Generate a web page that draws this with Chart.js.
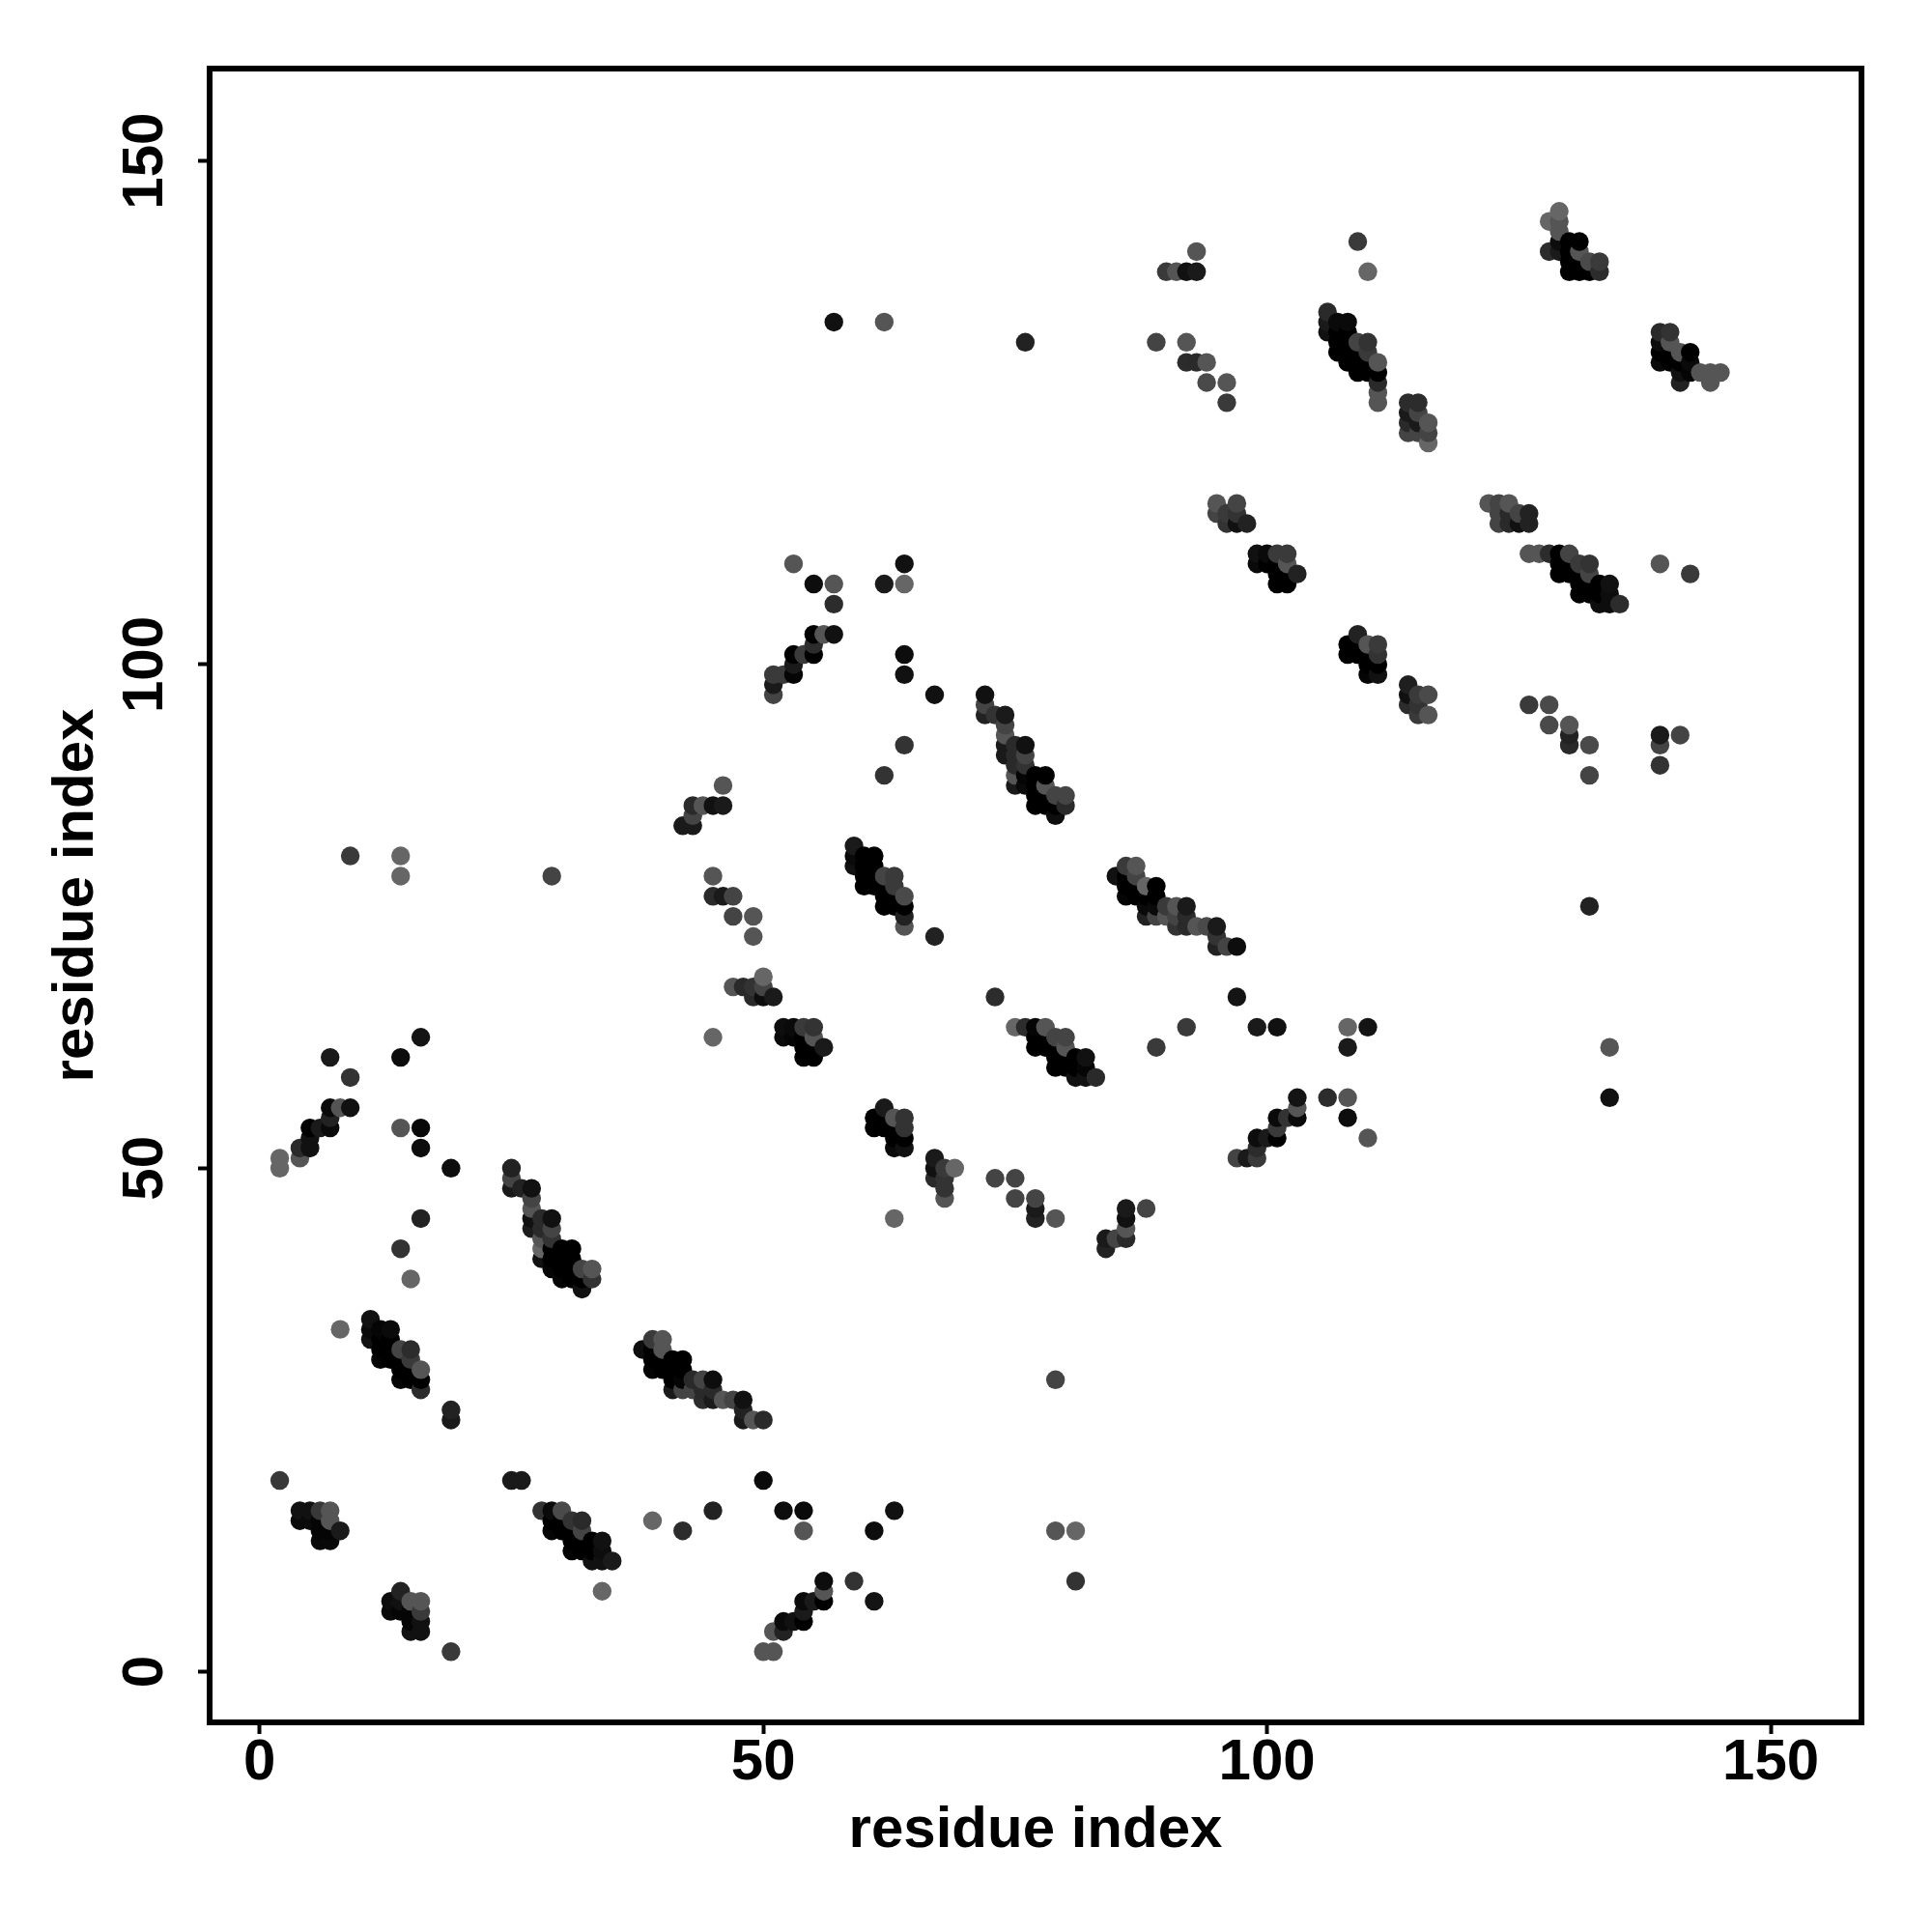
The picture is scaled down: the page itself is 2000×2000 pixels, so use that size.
<!DOCTYPE html>
<html>
<head>
<meta charset="utf-8">
<script src="https://cdn.jsdelivr.net/npm/chart.js@4"></script>
<style>
  body { margin: 0; background: #fff; }
  canvas { display: block; }
</style>
</head>
<body>
<canvas id="chart1" width="2000" height="2000"></canvas>
<script>
// each contact is [residue x, residue y, grey level of the dot]
const lowerLeft = [
  [2,19,0x38],[4,16,0x11],[4,15,0x0a],[5,16,0x11],[5,15,0x0a],[6,16,0x38],[6,15,0x05],[6,14,0x05],[6,13,0x08],
  [7,16,0x55],[7,15,0x55],[7,14,0x05],[7,13,0x08],[8,14,0x1a],
  [14,8,0x22],[13,7,0x0d],[14,7,0x11],[15,7,0x55],[16,7,0x55],[13,6,0x0a],[14,6,0x05],[15,6,0x05],[16,6,0x3a],
  [15,5,0x05],[16,5,0x11],[15,4,0x11],[16,4,0x11],[19,2,0x3a]
];
const helixA = [
  [8,34,0x66],[11,35,0x11],[11,34,0x0a],[11,33,0x11],[12,34,0x05],[12,33,0x00],[12,32,0x00],[12,31,0x05],
  [13,34,0x0a],[13,33,0x00],[13,32,0x00],[13,31,0x00],[14,32,0x44],[14,31,0x00],[14,30,0x00],[14,29,0x05],
  [15,32,0x2c],[15,31,0x3a],[15,30,0x00],[15,29,0x00],[16,30,0x55],[16,29,0x00],[16,28,0x2c],[19,26,0x22],[19,25,0x1a]
];
const helixB = [
  [15,39,0x66],[14,42,0x33],[16,45,0x22],[25,50,0x22],[25,49,0x44],[25,48,0x1a],[26,48,0x22],[27,48,0x11],
  [27,47,0x44],[27,46,0x55],[27,45,0x11],[27,44,0x1c],[28,45,0x2a],[28,44,0x2a],[28,43,0x55],[28,42,0x66],[28,41,0x11],
  [29,45,0x11],[29,44,0x44],[29,43,0x33],[29,42,0x00],[29,41,0x00],[29,40,0x05],[30,42,0x00],[30,41,0x00],[30,40,0x00],[30,39,0x05],
  [31,42,0x00],[31,41,0x00],[31,40,0x00],[31,39,0x00],[32,40,0x44],[32,39,0x00],[32,38,0x11],[33,40,0x55],[33,39,0x33]
];
const helixC = [
  [25,19,0x1a],[26,19,0x1a],[28,16,0x33],[29,16,0x0a],[29,15,0x00],[29,14,0x05],[30,16,0x4a],[30,15,0x00],[30,14,0x00],
  [31,15,0x33],[31,14,0x00],[31,13,0x00],[31,12,0x05],[32,15,0x2a],[32,14,0x44],[32,13,0x00],[32,12,0x00],
  [33,13,0x00],[33,12,0x00],[33,11,0x11],[34,13,0x11],[34,12,0x0d],[34,11,0x11],[35,11,0x1a],[34,8,0x66],[39,15,0x66]
];
const helixD = [
  [38,32,0x0d],[39,33,0x3a],[39,32,0x00],[39,31,0x00],[39,30,0x05],[40,33,0x55],[40,32,0x55],[40,31,0x00],[40,30,0x00],
  [41,31,0x00],[41,30,0x00],[41,29,0x00],[41,28,0x1a],[42,31,0x00],[42,30,0x00],[42,29,0x05],[42,28,0x44],
  [43,29,0x2a],[43,28,0x44],[44,29,0x44],[44,28,0x2a],[44,27,0x2c],[45,29,0x0d],[45,28,0x2a],[45,27,0x1a],
  [46,27,0x55],[47,27,0x44],[48,27,0x11],[48,26,0x22],[48,25,0x1a],[49,25,0x55],[50,25,0x2a]
];
const lowerMiddle = [
  [42,14,0x2c],[45,16,0x22],[50,19,0x0a],[52,16,0x0d],[54,16,0x0a],[54,14,0x55],[63,16,0x11],[61,14,0x0d],
  [79,29,0x44],[79,14,0x55],[81,14,0x66],[81,9,0x33],[59,9,0x33],[61,7,0x14],
  [50,2,0x55],[51,2,0x55],[51,4,0x55],[52,4,0x22],[52,5,0x0a],[53,5,0x11],[54,5,0x00],[54,6,0x1a],[54,7,0x0a],
  [55,7,0x1a],[56,7,0x00],[56,8,0x55],[56,9,0x0d]
];
const leftEdge = [
  [9,81,0x3a],[14,81,0x66],[14,79,0x66],[29,79,0x44],[16,63,0x14],[7,61,0x1a],[14,61,0x0c],[9,59,0x33],
  [7,56,0x0a],[8,56,0x55],[9,56,0x11],[7,55,0x22],[5,54,0x00],[6,54,0x1a],[7,54,0x0a],[14,54,0x55],[16,54,0x08],
  [5,53,0x11],[4,52,0x2a],[5,52,0x11],[16,52,0x0d],[2,51,0x66],[4,51,0x55],[2,50,0x66],[19,50,0x0d]
];
const midLeft = [
  [46,88,0x55],[43,86,0x2a],[44,86,0x55],[45,86,0x11],[46,86,0x1a],[43,85,0x44],[42,84,0x1a],[43,84,0x1a],
  [45,79,0x55],[45,77,0x2a],[46,77,0x1a],[47,77,0x44],[47,75,0x44],[49,75,0x55],[49,73,0x55],
  [50,69,0x66],[47,68,0x55],[48,68,0x2a],[49,68,0x33],[50,68,0x44],[49,67,0x2a],[50,67,0x0d],[51,67,0x1a],
  [45,63,0x66],[52,64,0x0d],[53,64,0x0a],[54,64,0x3a],[55,64,0x33],[52,63,0x0a],[53,63,0x05],[54,63,0x00],[55,63,0x55],
  [54,62,0x00],[55,62,0x00],[56,62,0x1a],[54,61,0x00],[55,61,0x00]
];
const upperMiddle = [
  [53,110,0x55],[55,108,0x0d],[57,108,0x55],[62,108,0x1a],[64,110,0x11],[64,108,0x66],[57,106,0x2c],
  [55,103,0x00],[56,103,0x55],[57,103,0x11],[55,102,0x2c],[53,101,0x00],[54,101,0x3a],[55,101,0x00],[64,101,0x0d],
  [53,100,0x1a],[51,99,0x3a],[52,99,0x3a],[53,99,0x05],[64,99,0x11],[51,98,0x1a],[51,97,0x44],[67,97,0x11],
  [64,92,0x33],[62,89,0x33],[67,73,0x22]
];
const helixE = [
  [72,97,0x11],[72,96,0x44],[72,95,0x22],[73,95,0x33],[74,95,0x1a],[74,94,0x44],[74,93,0x55],[74,92,0x1a],[74,91,0x1a],
  [75,92,0x2a],[75,91,0x2a],[75,90,0x2a],[75,89,0x55],[75,88,0x1a],[76,92,0x11],[76,91,0x44],[76,90,0x33],[76,89,0x05],[76,88,0x0a],
  [77,89,0x00],[77,88,0x00],[77,87,0x00],[77,86,0x00],[78,89,0x00],[78,88,0x55],[78,87,0x00],[78,86,0x00],
  [79,87,0x44],[79,86,0x00],[79,85,0x0d],[80,87,0x44],[80,86,0x2a]
];
const helixF = [
  [59,82,0x1a],[59,81,0x0a],[59,80,0x11],[60,81,0x00],[60,80,0x00],[60,79,0x00],[60,78,0x00],[61,81,0x00],[61,80,0x00],[61,79,0x00],[61,78,0x00],
  [62,79,0x44],[62,78,0x00],[62,77,0x00],[62,76,0x00],[63,79,0x3a],[63,78,0x3a],[63,77,0x00],[63,76,0x00],
  [64,77,0x4a],[64,76,0x00],[64,75,0x22],[64,74,0x55]
];
const helixG = [
  [61,55,0x00],[61,54,0x00],[62,56,0x1a],[62,55,0x00],[62,54,0x00],[63,55,0x55],[63,54,0x00],[63,53,0x00],[63,52,0x0a],
  [64,55,0x33],[64,54,0x33],[64,53,0x00],[64,52,0x11],[67,51,0x1a],[67,50,0x11],[67,49,0x2a],[68,50,0x3a],[68,49,0x33],[68,48,0x33],[68,47,0x55],[69,50,0x66],
  [63,45,0x66],[73,49,0x44],[75,49,0x44],[75,47,0x44],[77,47,0x44],[77,46,0x1a],[77,45,0x22],[79,45,0x55],
  [86,46,0x1a],[88,46,0x44],[86,45,0x11],[86,44,0x55],[86,43,0x2a],[85,43,0x44],[84,43,0x1a],[84,42,0x22]
];
const helixH = [
  [73,67,0x2c],[75,64,0x66],[76,64,0x2c],[77,64,0x05],[78,64,0x55],[77,63,0x00],[78,63,0x00],[79,63,0x44],[80,63,0x44],
  [77,62,0x00],[78,62,0x00],[79,62,0x00],[80,62,0x55],[79,61,0x00],[80,61,0x00],[81,61,0x00],[82,61,0x11],
  [79,60,0x00],[80,60,0x00],[81,60,0x00],[82,60,0x05],[81,59,0x11],[82,59,0x11],[83,59,0x2a]
];
const helixI = [
  [86,80,0x3a],[87,80,0x55],[85,79,0x11],[86,79,0x00],[87,79,0x44],[86,78,0x00],[87,78,0x00],[88,78,0x66],[89,78,0x00],
  [86,77,0x05],[87,77,0x00],[88,77,0x00],[89,77,0x00],[88,76,0x0a],[89,76,0x0a],[90,76,0x3a],[91,76,0x55],[92,76,0x1a],
  [88,75,0x22],[89,75,0x44],[90,75,0x55],[91,75,0x44],[92,75,0x2a],[91,74,0x33],[92,74,0x2a],[93,74,0x55],[94,74,0x4a],[95,74,0x1a],
  [95,73,0x33],[95,72,0x22],[96,72,0x44],[97,72,0x0d]
];
const rightLower = [
  [89,62,0x3a],[92,64,0x3a],[97,67,0x14],[99,64,0x1a],[101,64,0x11],[108,64,0x66],[110,64,0x14],[108,62,0x1a],
  [103,57,0x14],[103,56,0x55],[103,55,0x0a],[101,55,0x0a],[102,55,0x33],[106,57,0x2c],[108,57,0x55],[108,55,0x0d],[110,53,0x55],
  [101,54,0x3a],[101,53,0x00],[99,53,0x0d],[100,53,0x1a],[99,52,0x2c],[99,51,0x3a],[98,51,0x1a],[97,51,0x44],
  [134,62,0x55],[134,57,0x11],[132,76,0x22]
];
const upperA = [
  [57,134,0x11],[62,134,0x55],[76,132,0x22],[93,141,0x55],[90,139,0x3a],[91,139,0x55],[92,139,0x11],[93,139,0x1a],
  [89,132,0x44],[92,132,0x55],[92,130,0x2c],[93,130,0x2a],[94,130,0x55],[94,128,0x4a],[96,128,0x55],[96,126,0x3a],
  [109,142,0x3a],[110,139,0x66]
];
const helixJ = [
  [106,135,0x2a],[106,134,0x1a],[106,133,0x11],[107,134,0x0a],[107,133,0x00],[107,132,0x00],[107,131,0x00],
  [108,134,0x0a],[108,133,0x00],[108,132,0x00],[108,131,0x00],[108,130,0x00],[109,132,0x44],[109,131,0x00],[109,130,0x00],[109,129,0x00],
  [110,132,0x33],[110,131,0x3a],[110,130,0x00],[110,129,0x00],[111,130,0x55],[111,129,0x00],[111,128,0x2a],[111,127,0x55],[111,126,0x55],
  [114,126,0x2c],[115,126,0x2c],[114,125,0x1a],[115,125,0x44],[114,124,0x2a],[115,124,0x1a],[116,124,0x55],
  [114,123,0x44],[115,123,0x44],[116,123,0x44],[116,122,0x66]
];
const helixK = [
  [95,116,0x55],[97,116,0x44],[95,115,0x44],[96,115,0x3a],[97,115,0x33],[96,114,0x33],[97,114,0x11],[98,114,0x22],
  [99,111,0x11],[100,111,0x0a],[101,111,0x3a],[102,111,0x3a],[99,110,0x0a],[100,110,0x00],[101,110,0x00],[102,110,0x55],
  [103,109,0x22],[101,109,0x00],[102,109,0x00],[101,108,0x00],[102,108,0x00],
  [109,103,0x22],[108,102,0x00],[109,102,0x00],[110,102,0x55],[111,102,0x3a],[108,101,0x00],[109,101,0x00],[110,101,0x00],[111,101,0x33],
  [110,100,0x00],[111,100,0x00],[110,99,0x05],[111,99,0x11],[114,98,0x1f],[114,97,0x11],[115,97,0x3a],[116,97,0x4a],[114,96,0x2c],[115,96,0x33],[115,95,0x3a],[116,95,0x55]
];
const helixL = [
  [122,116,0x55],[123,116,0x44],[124,116,0x55],[123,115,0x44],[124,115,0x2a],[125,115,0x44],[126,115,0x22],[123,114,0x44],[124,114,0x2a],[125,114,0x11],[126,114,0x22],
  [126,111,0x55],[127,111,0x55],[128,111,0x2c],[129,111,0x00],[130,111,0x44],[129,110,0x00],[130,110,0x00],[131,110,0x3a],[132,110,0x33],
  [129,109,0x00],[130,109,0x00],[131,109,0x00],[132,109,0x44],[131,108,0x00],[132,108,0x00],[133,108,0x00],[134,108,0x11],
  [131,107,0x00],[132,107,0x00],[133,107,0x00],[134,107,0x0d],[133,106,0x0d],[134,106,0x0d],[135,106,0x2c],[139,110,0x55],[142,109,0x3a]
];
const rightSide = [
  [126,96,0x3a],[128,96,0x4a],[128,94,0x4a],[130,94,0x55],[130,93,0x22],[130,92,0x2a],[132,92,0x4a],[132,89,0x44],
  [139,93,0x1a],[139,92,0x44],[139,90,0x33],[141,93,0x44]
];
const topRight = [
  [129,145,0x66],[128,144,0x66],[129,144,0x55],[129,143,0x55],[129,142,0x0d],[130,142,0x00],[131,142,0x00],
  [128,141,0x2c],[129,141,0x1a],[130,141,0x00],[131,141,0x55],[130,140,0x00],[131,140,0x00],[132,140,0x4a],[133,140,0x3a],
  [130,139,0x00],[131,139,0x00],[132,139,0x00],[133,139,0x2c],
  [139,133,0x2a],[140,133,0x33],[139,132,0x0d],[140,132,0x55],[139,131,0x00],[140,131,0x00],[141,131,0x55],[142,131,0x00],
  [139,130,0x0a],[140,130,0x00],[141,130,0x00],[142,130,0x0a],[141,129,0x11],[142,129,0x05],[143,129,0x55],[144,129,0x55],[145,129,0x55],
  [141,128,0x22],[144,128,0x55]
];

const tickValues = [0, 50, 100, 150];
const axisTitle = 'residue index';

// later columns, and higher rows in a column, paint over earlier ones
const contacts = [].concat(
  lowerLeft, helixA, helixB, helixC, helixD, lowerMiddle, leftEdge, midLeft, upperMiddle, helixE, helixF,
  helixG, helixH, helixI, rightLower, upperA, helixJ, helixK, helixL, rightSide, topRight
).sort((a, b) => a[0] - b[0] || a[1] - b[1]);

const fontFamily = '"Liberation Sans", Arial, sans-serif';

function fixTicks(scale) {
  scale.ticks = tickValues.map(v => ({ value: v }));
}

const plotBox = {
  id: 'plotBox',
  afterDraw(chart) {
    const { ctx, chartArea: a } = chart;
    ctx.save();
    ctx.lineWidth = 6;
    ctx.strokeStyle = '#000';
    ctx.strokeRect(a.left, a.top, a.right - a.left, a.bottom - a.top);
    ctx.restore();
  }
};

const ctx1 = document.getElementById('chart1');

new Chart(ctx1, {
  type: 'scatter',
  data: {
    datasets: [{
      data: contacts.map(c => ({ x: c[0], y: c[1] })),
      backgroundColor: contacts.map(c => `rgb(${c[2]},${c[2]},${c[2]})`),
      borderWidth: 0,
      pointRadius: 9.7,
      pointHoverRadius: 9.7,
    }],
  },
  options: {
    responsive: false,
    animation: false,
    layout: { padding: { top: 71, right: 73, left: 0, bottom: 0 } },
    plugins: { legend: { display: false }, tooltip: { enabled: false } },
    scales: {
      x: {
        type: 'linear',
        min: -4.96,
        max: 159.0,
        afterBuildTicks: fixTicks,
        afterFit(scale) { scale.height = 217; },
        border: { display: false },
        grid: { drawOnChartArea: false, drawTicks: true, tickLength: 12, tickWidth: 4, tickColor: '#000' },
        ticks: {
          color: '#000',
          padding: -6,
          maxRotation: 0,
          font: { family: fontFamily, size: 60, weight: 'bold' },
        },
        title: {
          display: true,
          text: axisTitle,
          color: '#000',
          padding: { top: 0, bottom: 69 },
          font: { family: fontFamily, size: 60, weight: 'bold' },
        },
      },
      y: {
        type: 'linear',
        min: -5.02,
        max: 159.17,
        afterBuildTicks: fixTicks,
        afterFit(scale) { scale.width = 217; },
        border: { display: false },
        grid: { drawOnChartArea: false, drawTicks: true, tickLength: 12, tickWidth: 4, tickColor: '#000' },
        ticks: {
          color: '#000',
          padding: 3.5,
          minRotation: 90,
          maxRotation: 90,
          crossAlign: 'center',
          font: { family: fontFamily, size: 60, weight: 'bold' },
        },
        title: {
          display: true,
          text: axisTitle,
          color: '#000',
          padding: { top: 43, bottom: 0 },
          font: { family: fontFamily, size: 60, weight: 'bold' },
        },
      },
    },
  },
  plugins: [plotBox],
});
</script>
</body>
</html>
